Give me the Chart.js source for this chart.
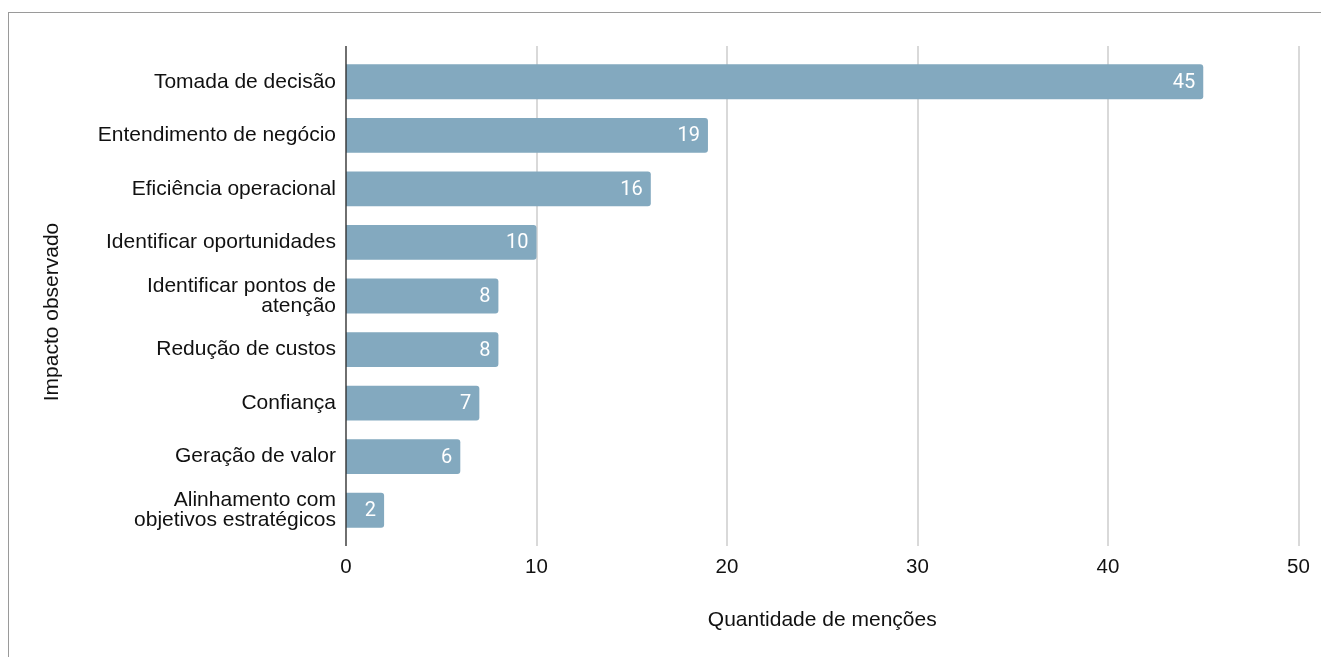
<!DOCTYPE html>
<html>
<head>
<meta charset="utf-8">
<script src="https://cdn.jsdelivr.net/npm/chart.js@4.4.0/dist/chart.umd.min.js"></script>
<style>
  html, body { margin: 0; padding: 0; background: #fff; }
  #frame { position: absolute; left: 8px; top: 12px; right: -10px; bottom: -10px;
           border-left: 1px solid #9a9a9a; border-top: 1px solid #9a9a9a; }
  #wrap { position: absolute; left: 0; top: 0; width: 1321px; height: 657px; }
</style>
</head>
<body>
<div id="frame"></div>
<div id="wrap"><canvas id="c" width="1321" height="657"></canvas></div>
<script>
// Dados do gráfico
const categorias = [
  'Tomada de decisão',
  'Entendimento de negócio',
  'Eficiência operacional',
  'Identificar oportunidades',
  ['Identificar pontos de', 'atenção'],
  'Redução de custos',
  'Confiança',
  'Geração de valor',
  ['Alinhamento com', 'objetivos estratégicos']
];
const mencoes = [45, 19, 16, 10, 8, 8, 7, 6, 2];
const ticksX = [0, 10, 20, 30, 40, 50];
const tituloX = 'Quantidade de menções';
const tituloY = 'Impacto observado';

const FONT = 'Liberation Sans, Arial, sans-serif';
const BAR_COLOR = '#83a9bf';

// Grade e eixo desenhados à mão para passarem um pouco da área do gráfico
const gridPlugin = {
  id: 'gridExt',
  beforeDatasetsDraw(chart) {
    const { ctx, chartArea } = chart;
    const x = chart.scales.x;
    const top = chartArea.top - 9, bottom = chartArea.bottom + 9;
    ctx.save();
    ctx.strokeStyle = '#cccccc';
    ctx.lineWidth = 1.5;
    ticksX.slice(1).forEach(v => {
      const px = Math.round(x.getPixelForValue(v));
      ctx.beginPath(); ctx.moveTo(px, top); ctx.lineTo(px, bottom); ctx.stroke();
    });
    // título do eixo Y (um pouco abaixo do centro, como no original)
    ctx.fillStyle = '#111';
    ctx.font = '21px ' + FONT;
    ctx.textAlign = 'center';
    ctx.textBaseline = 'middle';
    ctx.translate(52, 312);
    ctx.rotate(-Math.PI / 2);
    ctx.fillText(tituloY, 0, 0);
    ctx.restore();
  },
  afterDatasetsDraw(chart) {
    const { ctx, chartArea } = chart;
    const x = chart.scales.x;
    const px = Math.round(x.getPixelForValue(0));
    ctx.save();
    ctx.strokeStyle = '#333333';
    ctx.lineWidth = 1.4;
    ctx.beginPath(); ctx.moveTo(px, chartArea.top - 9); ctx.lineTo(px, chartArea.bottom + 9); ctx.stroke();
    // rótulos de valor dentro das barras
    ctx.fillStyle = '#ffffff';
    ctx.font = '20px Roboto, sans-serif';
    ctx.textAlign = 'right';
    ctx.textBaseline = 'middle';
    chart.getDatasetMeta(0).data.forEach((bar, i) => {
      ctx.fillText(String(mencoes[i]), bar.x - 8, bar.y + 1);
    });
    ctx.restore();
  }
};

new Chart(document.getElementById('c'), {
  type: 'bar',
  data: {
    labels: categorias,
    datasets: [{
      data: mencoes,
      backgroundColor: BAR_COLOR,
      borderRadius: 3,
      barPercentage: 0.65,
      categoryPercentage: 1
    }]
  },
  options: {
    indexAxis: 'y',
    responsive: false,
    animation: false,
    layout: { padding: { top: 55, right: 22.5, left: 0, bottom: 0 } },
    plugins: { legend: { display: false }, tooltip: { enabled: false } },
    scales: {
      x: {
        min: 0, max: 50,
        afterBuildTicks: s => { s.ticks = ticksX.map(v => ({ value: v })); },
        afterFit: s => { s.height = 120; s.paddingLeft = 0; s.paddingRight = 0; },
        grid: { display: false, drawTicks: false },
        border: { display: false },
        ticks: { color: '#111', padding: 20, font: { family: FONT, size: 20.5, lineHeight: 1 } },
        title: {
          display: true, text: tituloX, color: '#111',
          font: { family: FONT, size: 21, lineHeight: 1 },
          padding: { top: 0, bottom: 26 }
        }
      },
      y: {
        afterFit: s => { s.width = 346; s.paddingTop = 0; s.paddingBottom = 0; },
        grid: { display: false, drawTicks: false },
        border: { display: false },
        ticks: { color: '#111', padding: 10, autoSkip: false, font: { family: FONT, size: 21, lineHeight: 0.93 } },
        title: { display: false }
      }
    }
  },
  plugins: [gridPlugin]
});
</script>
</body>
</html>
